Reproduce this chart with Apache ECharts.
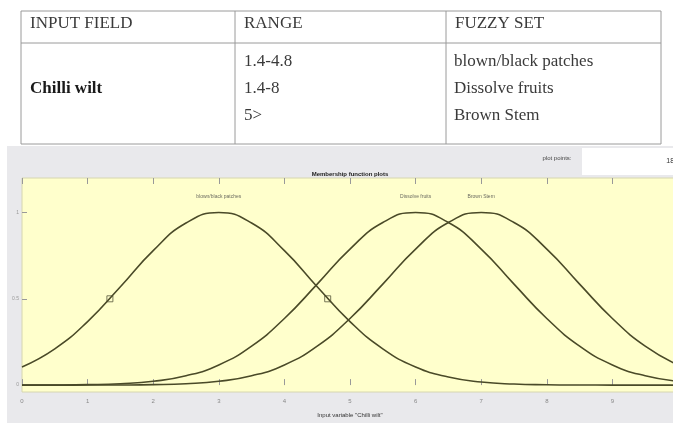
<!DOCTYPE html>
<html>
<head>
<meta charset="utf-8">
<script src="https://cdn.jsdelivr.net/npm/echarts@6/dist/echarts.min.js"></script>
<style>
  html, body { margin: 0; padding: 0; background: #ffffff; }
  #main { width: 673px; height: 423px; }
</style>
</head>
<body>
<div id="main"></div>
<script>
// table contents
var tableHeader = ['INPUT FIELD', 'RANGE', 'FUZZY SET'];
var inputField = 'Chilli wilt';
var ranges = ['1.4-4.8', '1.4-8', '5>'];
var fuzzySets = ['blown/black patches', 'Dissolve fruits', 'Brown Stem'];

// membership function plot (x step 0.5)
var xValues = [0, 0.5, 1, 1.5, 2, 2.5, 3, 3.5, 4, 4.5, 5, 5.5, 6, 6.5, 7, 7.5, 8, 8.5, 9, 9.5, 10];
var blownBlack = [0.105, 0.21, 0.368, 0.57, 0.779, 0.939, 1, 0.939, 0.779, 0.57, 0.368, 0.21, 0.105, 0.047, 0.018, 0.006, 0.002, 0.0005, 0.0001, 0, 0];
var dissolveFruits = [0.0002, 0.0007, 0.0026, 0.008, 0.022, 0.054, 0.117, 0.226, 0.386, 0.585, 0.788, 0.942, 1, 0.942, 0.788, 0.585, 0.386, 0.226, 0.117, 0.054, 0.022];
var brownStem = [0, 0, 0.0002, 0.0007, 0.0026, 0.008, 0.022, 0.054, 0.117, 0.226, 0.386, 0.585, 0.788, 0.942, 1, 0.942, 0.788, 0.585, 0.386, 0.226, 0.117];
var mfCenters = [3, 6, 7];
var selectedMarks = [[1.34, 0.5], [4.66, 0.5]];
var yTicks = [0, 0.5, 1];
var plotTitle = 'Membership function plots';
var xAxisName = 'Input variable "Chilli wilt"';
var plotPointsLabel = 'plot points:';
var plotPoints = '181';

function pairs(ys) {
    return xValues.map(function (x, i) { return [x, ys[i]]; });
}

var myChart = echarts.init(document.getElementById('main'));

// table drawing
var colX = [21, 235, 446, 661];
var tableTop = 11, headerLine = 43, tableBottom = 144;
var lineStyle = { stroke: '#9a9a9a', lineWidth: 1 };
var serif = 'Liberation Serif, Times New Roman, serif';
var graphics = [];

graphics.push({ type: 'rect', z: -10, shape: { x: 7, y: 146, width: 666, height: 277 }, style: { fill: '#e9e9ec' } });
graphics.push({ type: 'rect', z: -9, shape: { x: 582, y: 148, width: 91, height: 27 }, style: { fill: '#ffffff' } });

[tableTop, headerLine, tableBottom].forEach(function (y) {
    graphics.push({ type: 'line', shape: { x1: colX[0], y1: y, x2: colX[3], y2: y }, style: lineStyle });
});
colX.forEach(function (x) {
    graphics.push({ type: 'line', shape: { x1: x, y1: tableTop, x2: x, y2: tableBottom }, style: lineStyle });
});
tableHeader.forEach(function (t, i) {
    graphics.push({ type: 'text', x: colX[i] + 9, y: 24,
        style: { text: t, font: '17px ' + serif, fill: '#3a3a3a', verticalAlign: 'middle' } });
});
var rowY = [62, 89, 116];
graphics.push({ type: 'text', x: colX[0] + 9, y: rowY[1],
    style: { text: inputField, font: 'bold 17px ' + serif, fill: '#1a1a1a', verticalAlign: 'middle' } });
ranges.forEach(function (t, i) {
    graphics.push({ type: 'text', x: colX[1] + 9, y: rowY[i],
        style: { text: t, font: '17px ' + serif, fill: '#3a3a3a', verticalAlign: 'middle' } });
});
fuzzySets.forEach(function (t, i) {
    graphics.push({ type: 'text', x: colX[2] + 8, y: rowY[i],
        style: { text: t, font: '17px ' + serif, fill: '#3a3a3a', verticalAlign: 'middle' } });
});

// plot texts
graphics.push({ type: 'text', x: 350, y: 174,
    style: { text: plotTitle, font: 'bold 6px sans-serif', fill: '#222', align: 'center', verticalAlign: 'middle' } });
graphics.push({ type: 'text', x: 557, y: 158,
    style: { text: plotPointsLabel, font: '6px sans-serif', fill: '#444', align: 'center', verticalAlign: 'middle' } });
graphics.push({ type: 'text', x: 678, y: 161,
    style: { text: plotPoints, font: '7px sans-serif', fill: '#333', align: 'right', verticalAlign: 'middle' } });

var curveColor = '#4a4a28';
function mfSeries(name, ys) {
    return {
        name: name,
        type: 'line',
        data: pairs(ys),
        smooth: true,
        showSymbol: false,
        lineStyle: { color: curveColor, width: 1.6 },
        itemStyle: { color: curveColor }
    };
}

var option = {
    animation: false,
    graphic: graphics,
    grid: {
        left: 22, top: 178, right: -5, height: 214,
        outerBoundsMode: 'none', containLabel: false,
        show: true, backgroundColor: '#ffffcc', borderColor: '#d6d6b0', borderWidth: 1
    },
    xAxis: [{
        type: 'value', min: 0, max: 10, interval: 1,
        name: xAxisName, nameLocation: 'middle', nameGap: 20,
        nameTextStyle: { fontSize: 6, color: '#333' },
        axisLine: { show: false },
        axisTick: { inside: true, length: 6, lineStyle: { color: '#999' } },
        axisLabel: { fontSize: 6, color: '#888', margin: 6 },
        splitLine: { show: false }
    }, {
        type: 'value', min: 0, max: 10, interval: 1, position: 'top',
        axisLine: { show: false },
        axisTick: { inside: true, length: 6, lineStyle: { color: '#999' } },
        axisLabel: { show: false },
        splitLine: { show: false }
    }],
    yAxis: {
        type: 'value', min: -0.04, max: 1.2,
        axisLine: { show: false },
        axisTick: { inside: true, length: 5, customValues: yTicks, lineStyle: { color: '#999' } },
        axisLabel: { fontSize: 5, color: '#999', margin: 3, customValues: yTicks },
        splitLine: { show: false }
    },
    series: [
        mfSeries(fuzzySets[0], blownBlack),
        mfSeries(fuzzySets[1], dissolveFruits),
        mfSeries(fuzzySets[2], brownStem),
        {
            type: 'scatter',
            data: selectedMarks,
            symbol: 'rect',
            symbolSize: 6,
            itemStyle: { color: 'rgba(0,0,0,0)', borderColor: '#55553a', borderWidth: 1 }
        },
        {
            type: 'scatter',
            data: mfCenters.map(function (c, i) { return { value: [c, 1.09], name: fuzzySets[i] }; }),
            symbolSize: 0,
            label: { show: true, position: 'inside', formatter: '{b}', fontSize: 5, color: '#444' }
        }
    ]
};

myChart.setOption(option);
</script>
</body>
</html>
